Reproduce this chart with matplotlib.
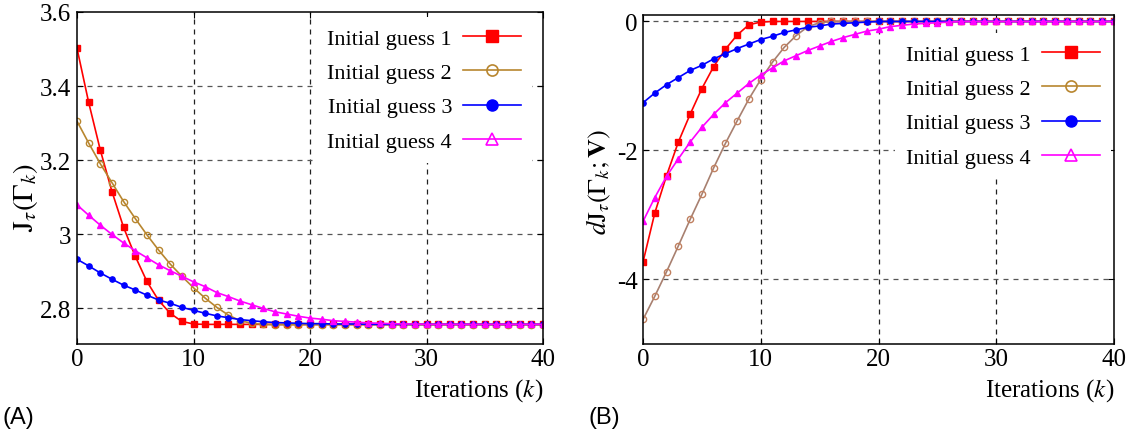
import numpy as np
import matplotlib
matplotlib.use("Agg")
import matplotlib.pyplot as plt

plt.rcParams['font.family'] = ['Liberation Serif', 'DejaVu Serif']
plt.rcParams['mathtext.fontset'] = 'stix'
plt.rcParams['axes.unicode_minus'] = False

iterations = np.arange(41)
labels = ["Initial guess 1", "Initial guess 2", "Initial guess 3", "Initial guess 4"]

# Cost functional J_tau(Gamma_k)
cost_g1 = [3.502, 3.356, 3.227, 3.115, 3.018, 2.940, 2.872, 2.821, 2.786, 2.764,
           2.757] + [2.756] * 30
cost_g2 = [3.305, 3.246, 3.190, 3.139, 3.088, 3.042, 2.998, 2.957, 2.919, 2.886,
           2.855, 2.827, 2.802, 2.781, 2.766, 2.759, 2.756] + [2.755] * 24
cost_g3 = [2.932, 2.914, 2.895, 2.878, 2.862, 2.849, 2.835, 2.822, 2.813, 2.802,
           2.794, 2.786, 2.779, 2.774, 2.769, 2.766, 2.763, 2.761, 2.760, 2.759,
           2.758, 2.758, 2.757, 2.757, 2.757] + [2.756] * 16
cost_g4 = [3.079, 3.051, 3.024, 2.999, 2.976, 2.955, 2.936, 2.917, 2.901, 2.886,
           2.871, 2.858, 2.842, 2.831, 2.819, 2.809, 2.799, 2.790, 2.784, 2.778,
           2.773, 2.770, 2.766, 2.764, 2.762, 2.760, 2.759, 2.758, 2.757, 2.757] + [2.756] * 11

# Shape derivative dJ_tau(Gamma_k; V)
grad_g1 = [-3.73, -2.97, -2.39, -1.87, -1.44, -1.04, -0.70, -0.43, -0.21, -0.05,
           -0.01] + [0.0] * 30
grad_g2 = [-4.62, -4.26, -3.88, -3.48, -3.07, -2.68, -2.27, -1.89, -1.54, -1.20,
           -0.90, -0.63, -0.40, -0.22, -0.08, -0.02] + [0.0] * 25
grad_g3 = [-1.26, -1.11, -0.98, -0.87, -0.76, -0.68, -0.58, -0.50, -0.42, -0.35,
           -0.28, -0.23, -0.17, -0.13, -0.09, -0.07, -0.04, -0.03, -0.02, -0.01] + [0.0] * 21
grad_g4 = [-3.10, -2.73, -2.40, -2.13, -1.87, -1.64, -1.44, -1.26, -1.11, -0.96,
           -0.83, -0.72, -0.61, -0.53, -0.45, -0.38, -0.31, -0.25, -0.20, -0.15,
           -0.12, -0.08, -0.06, -0.04, -0.03, -0.02, -0.01] + [0.0] * 14

cost_ticks = [2.8, 3.0, 3.2, 3.4, 3.6]
cost_ticklabels = ["2.8", "3", "3.2", "3.4", "3.6"]
grad_ticks = [-4, -2, 0]
grad_ticklabels = ["-4", "-2", "0"]
x_ticks = [0, 10, 20, 30, 40]

W, H = 1129, 439
fig = plt.figure(figsize=(W / 100, H / 100), dpi=100)
ax1 = fig.add_axes([77 / W, 1 - 345 / H, (543 - 77) / W, (345 - 13) / H])
ax2 = fig.add_axes([643 / W, 1 - 345 / H, (1114 - 643) / W, (345 - 16) / H])

styles = [
    dict(color='#ff0000', marker='s', ms=4.5, mfc='#ff0000', mec='#ff0000'),
    dict(color='#b8862f', marker='o', ms=4.5, mfc='none', mec='#b8862f', mew=1.0),
    dict(color='#0000ff', marker='o', ms=3.8, mfc='#0000ff', mec='#0000ff'),
    dict(color='#ff00ff', marker='^', ms=4.5, mfc='#ff00ff', mec='#ff00ff'),
]
styles_right = [dict(s) for s in styles]
styles_right[1].update(color='#a88070', mec='#c08060')


def style_axes(ax, yticks, yticklabels, ylim, gridy):
    ax.set_xlim(0, 40)
    ax.set_ylim(*ylim)
    ax.set_xticks(x_ticks)
    ax.set_xticklabels([str(t) for t in x_ticks])
    ax.set_yticks(yticks)
    ax.set_yticklabels(yticklabels)
    ax.tick_params(direction='in', length=4, width=0.8, labelsize=18,
                   top=True, right=True)
    ax.tick_params(axis='y', pad=4)
    ax.tick_params(axis='x', pad=3)
    for sp in ax.spines.values():
        sp.set_linewidth(1.1)
    for x in [10, 20, 30]:
        ax.axvline(x, color='#222222', lw=0.9, ls=(0, (4, 4)), zorder=0.5)
    for y in gridy:
        ax.axhline(y, color='#555555', lw=0.9, ls=(0, (4, 4)), zorder=0.5)


def add_legend(ax, handles, anchor):
    leg = ax.legend(handles, labels, loc='upper right', bbox_to_anchor=anchor,
                    bbox_transform=fig.transFigure, markerfirst=False,
                    fontsize=16, handlelength=2.6, handletextpad=0.5,
                    labelspacing=0.62, borderpad=0.5, borderaxespad=0,
                    frameon=True, fancybox=False)
    leg.get_frame().set_facecolor('white')
    leg.get_frame().set_edgecolor('none')
    leg.get_frame().set_alpha(1)
    for i, h in enumerate(leg.legend_handles):
        h.set_markersize(8)
        if i in (1, 3):
            h.set_markerfacecolor('none')
            h.set_markeredgewidth(1.2)
    leg.set_zorder(3)
    return leg


hs = []
for data, st in zip([cost_g1, cost_g2, cost_g3, cost_g4], styles):
    hs.append(ax1.plot(iterations, data, lw=1.2, zorder=2, **st)[0])
style_axes(ax1, cost_ticks, cost_ticklabels, (2.703, 3.6), [2.8, 3.0, 3.2, 3.4])
add_legend(ax1, hs, (532 / W, 1 - 18 / H))

hs = []
for data, st in zip([grad_g1, grad_g2, grad_g3, grad_g4], styles_right):
    hs.append(ax2.plot(iterations, data, lw=1.2, zorder=2, **st)[0])
hs[1].set_color('#a88070')
style_axes(ax2, grad_ticks, grad_ticklabels, (-5.0, 0.1), [-4, -2, 0])
leg2 = add_legend(ax2, hs, (1111 / W, 1 - 34 / H))
leg2.legend_handles[1].set_color('#b8862f')
leg2.legend_handles[1].set_markeredgecolor('#b8862f')

# axis titles
fig.text(25 / W, 1 - 197 / H, r'$\mathrm{J}_{\tau}(\Gamma_k)$', fontsize=21,
         rotation=90, ha='center', va='center')
fig.text(599 / W, 1 - 182 / H, r'$d\mathrm{J}_{\tau}(\Gamma_k;\mathbf{V})$', fontsize=19,
         rotation=90, ha='center', va='center')
fig.text(543 / W, 1 - 391 / H, r'Iterations ($k$)', fontsize=18, ha='right', va='center')
fig.text(1114 / W, 1 - 391 / H, r'Iterations ($k$)', fontsize=18, ha='right', va='center')

fig.text(2 / W, 1 - 418 / H, '(A)', fontsize=17, family='Liberation Sans', va='center')
fig.text(588 / W, 1 - 418 / H, '(B)', fontsize=17, family='Liberation Sans', va='center')

fig.savefig('out.png', dpi=100)
